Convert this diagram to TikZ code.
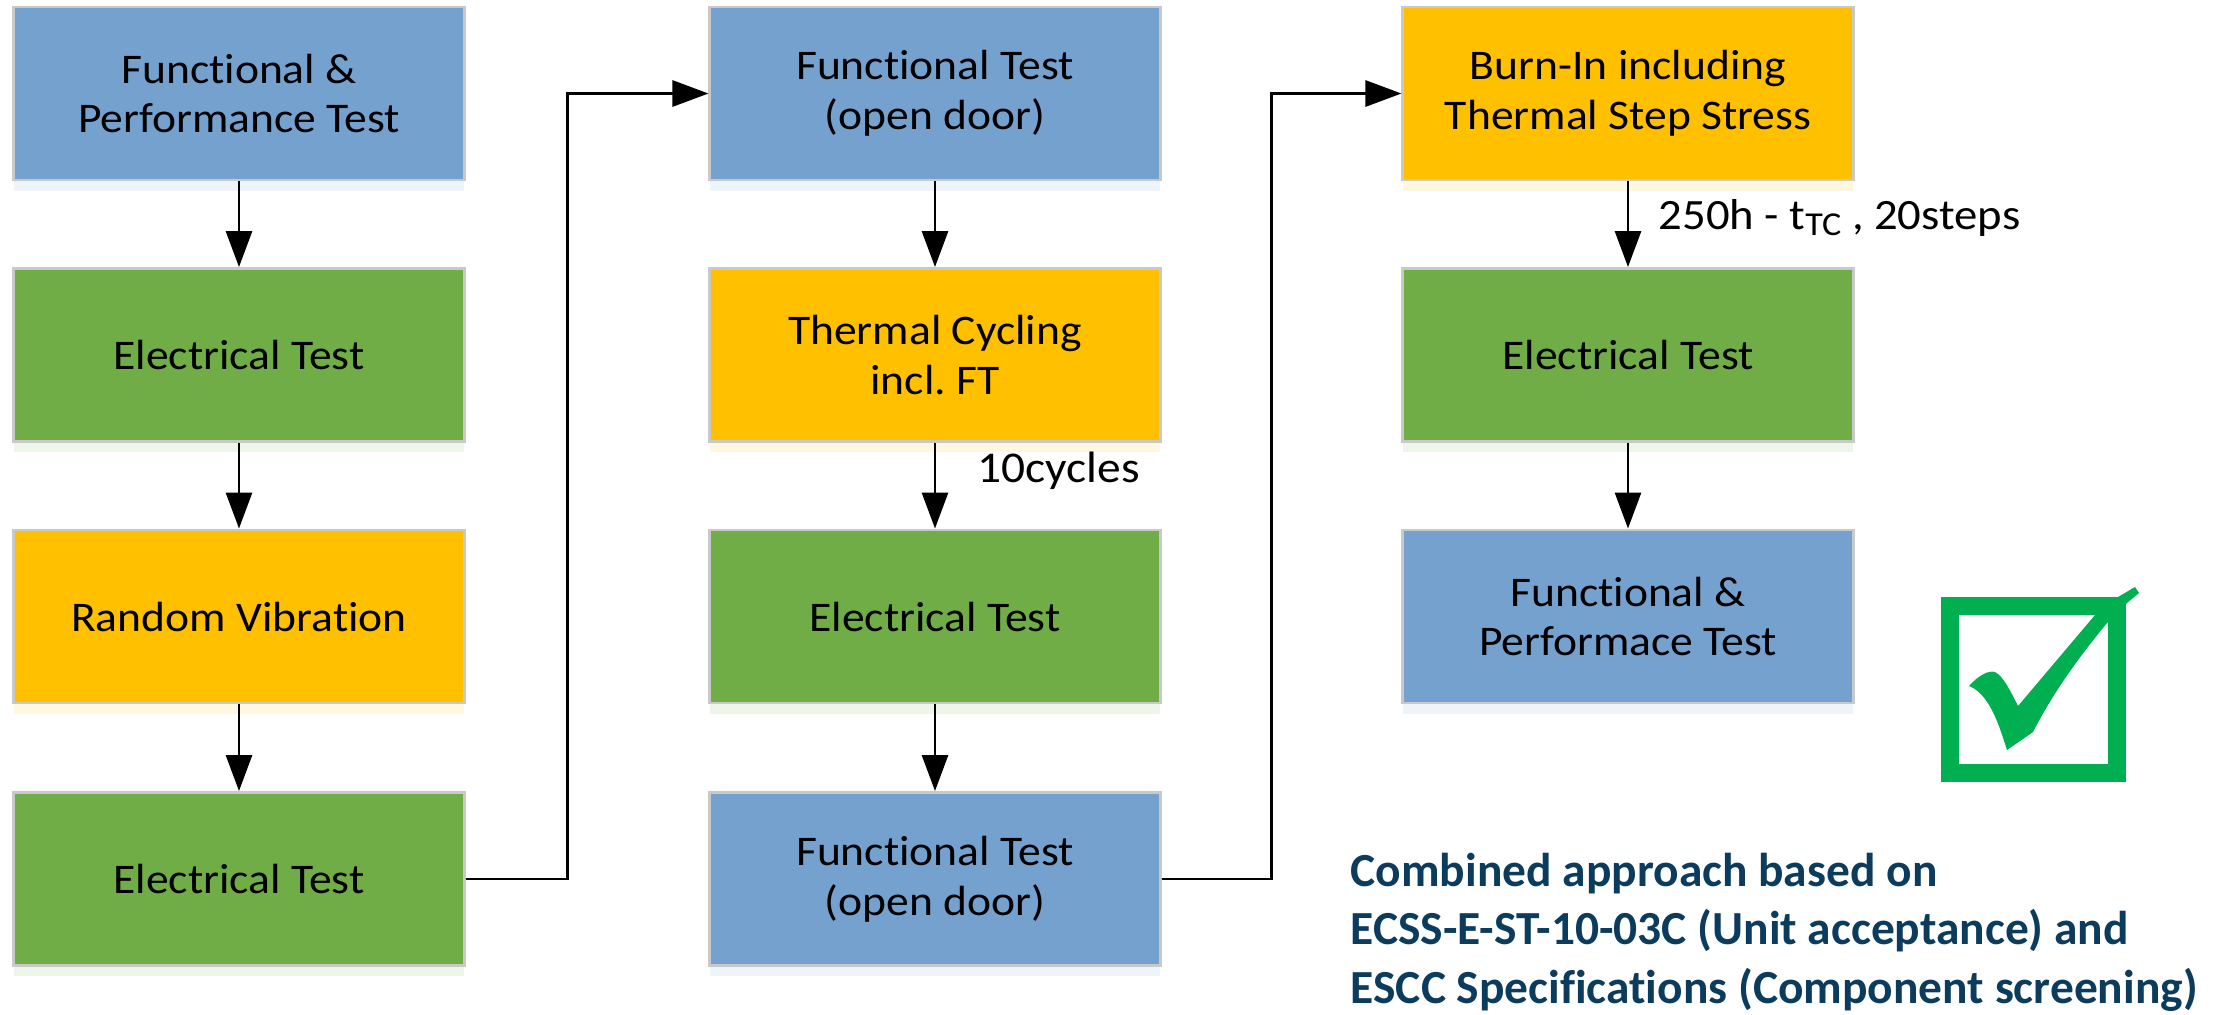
\documentclass[tikz,border=0pt]{standalone}
\usepackage{fontspec}
\setmainfont{Carlito}[Ligatures={NoCommon}]
\newfontfamily\boxfont{Carlito}[FakeStretch=1.08, Ligatures={NoCommon}]
\usetikzlibrary{arrows.meta,shadows}
\definecolor{cblue}{HTML}{75A1CE}
\definecolor{cgreen}{HTML}{70AD47}
\definecolor{cyell}{HTML}{FFC000}
\definecolor{cborder}{HTML}{C9C9C9}
\definecolor{ctext}{HTML}{0B3C5D}
\definecolor{ccheck}{HTML}{00B050}
\tikzset{
  box/.style={draw=cborder, line width=0.8pt, minimum width=4.5cm, minimum height=1.73cm,
    align=center, font=\boxfont\fontsize{12}{14.2}\selectfont, inner sep=2pt},
  bluebox/.style={box, fill=cblue, drop shadow={shadow xshift=0pt, shadow yshift=-3pt, opacity=0.12, fill=cblue}},
  greenbox/.style={box, fill=cgreen, drop shadow={shadow xshift=0pt, shadow yshift=-3pt, opacity=0.12, fill=cgreen}},
  yellbox/.style={box, fill=cyell, drop shadow={shadow xshift=0pt, shadow yshift=-3pt, opacity=0.12, fill=cyell}},
  conn/.style={line width=0.8pt, -{Triangle[length=3.6mm, width=2.6mm]}},
  lbl/.style={inner sep=0pt, anchor=west},
}
\begin{document}
\frenchspacing
\begin{tikzpicture}[x=0.01cm, y=-0.01cm]
\useasboundingbox (0,0) rectangle (2217,1014);
% column 1
\node[bluebox]  (a1) at (239,93.5) {Functional \&\\Performance Test};
\node[greenbox] (a2) at (239,355) {Electrical Test};
\node[yellbox]  (a3) at (239,616.5) {Random Vibration};
\node[greenbox] (a4) at (239,879) {Electrical Test};
% column 2
\node[bluebox]  (b1) at (935,93.5) {Functional Test\\(open door)};
\node[yellbox]  (b2) at (935,355) {Thermal Cycling\\incl. FT};
\node[greenbox] (b3) at (935,616.5) {Electrical Test};
\node[bluebox]  (b4) at (935,879) {Functional Test\\(open door)};
% column 3
\node[yellbox]  (c1) at (1628,93.5) {Burn-In including\\Thermal Step Stress};
\node[greenbox] (c2) at (1628,355) {Electrical Test};
\node[bluebox]  (c3) at (1628,616.5) {Functional \&\\Performace Test};
% connectors
\draw[conn] (a1) -- (a2);
\draw[conn] (a2) -- (a3);
\draw[conn] (a3) -- (a4);
\draw[conn] (a4.east) -- ++(102,0) |- (b1.west);
\draw[conn] (b1) -- (b2);
\draw[conn] (b2) -- (b3);
\draw[conn] (b3) -- (b4);
\draw[conn] (b4.east) -- ++(110,0) |- (c1.west);
\draw[conn] (c1) -- (c2);
\draw[conn] (c2) -- (c3);
% labels
\node[lbl, font=\boxfont\fontsize{12.5}{15}\selectfont] (l1) at (977,471) {10cycles};
\node[lbl, font=\boxfont\fontsize{12.3}{15}\selectfont] (l2) at (1658,218) {250h - t{\fontsize{9.5}{11}\selectfont\raisebox{-0.35ex}{TC}} , 20steps};
% check box
\draw[ccheck, line width=0.18cm] (1950,606) rectangle (2116.5,772.5);
\fill[ccheck] (1969,686) .. controls (1978,676) and (1988,670) .. (1995,672)
  .. controls (2003,676) and (2010,690) .. (2018,706)
  -- (2095,615) -- (2118,597) -- (2135,587) -- (2139,593) -- (2127,603) -- (2107,623)
  .. controls (2075,662) and (2052,695) .. (2033,732)
  -- (2007,750)
  .. controls (2000,728) and (1990,694) .. (1969,686) -- cycle;
% bottom text
\node[inner sep=0pt, anchor=north west, align=left, text=ctext,
  font=\fontsize{13.5}{16.7}\selectfont\bfseries] (note) at (1350,852)
  {Combined approach based on\\ECSS-E-ST-10-03C (Unit acceptance) and\\ESCC Specifications (Component screening)};
\end{tikzpicture}
\end{document}
